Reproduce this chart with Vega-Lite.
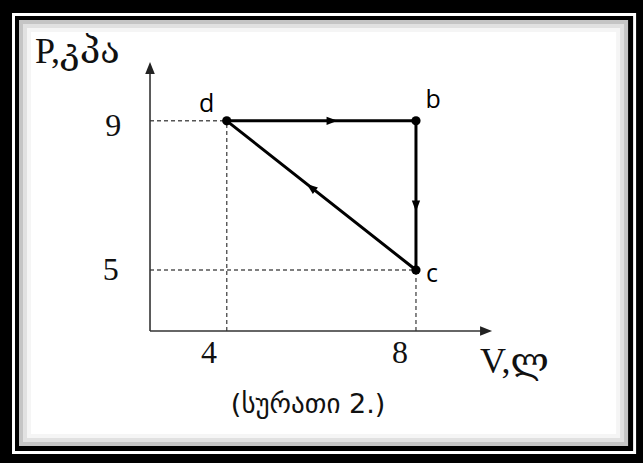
{
  "$schema": "https://vega.github.io/schema/vega-lite/v6.json",
  "width": 643,
  "height": 463,
  "autosize": {"type": "fit", "contains": "padding"},
  "padding": 0,
  "background": "black",
  "config": {"view": {"stroke": null}},
  "encoding": {
    "x": {"field": "V", "type": "quantitative", "scale": {"domain": [-0.793, 12.799], "nice": false, "zero": false}, "axis": null},
    "y": {"field": "P", "type": "quantitative", "scale": {"domain": [-0.174, 12.239], "nice": false, "zero": false}, "axis": null}
  },
  "layer": [
    {
      "data": {"values": [{"V": -0.539, "V2": 12.653, "P": 11.890, "P2": 0.067}]},
      "mark": {"type": "rect", "fill": "white"},
      "encoding": {"x2": {"field": "V2"}, "y2": {"field": "P2"}}
    },
    {
      "data": {"values": [{"V": -0.476, "V2": 12.590, "P": 11.810, "P2": 0.148}]},
      "mark": {"type": "rect", "fill": "black"},
      "encoding": {"x2": {"field": "V2"}, "y2": {"field": "P2"}}
    },
    {
      "data": {"values": [{"V": -0.391, "V2": 12.484, "P": 11.703, "P2": 0.282}]},
      "mark": {"type": "rect", "fill": "white"},
      "encoding": {"x2": {"field": "V2"}, "y2": {"field": "P2"}}
    },
    {
      "data": {"values": [{"V": -0.391, "V2": 12.484, "P": 11.703, "P2": 0.282}]},
      "mark": {"type": "rect", "filled": false, "stroke": "black", "strokeOpacity": 0.16, "strokeWidth": 8},
      "encoding": {"x2": {"field": "V2"}, "y2": {"field": "P2"}}
    },
    {
      "data": {"values": [{"V": -0.306, "V2": 12.399, "P": 11.596, "P2": 0.389}]},
      "mark": {"type": "rect", "filled": false, "stroke": "black", "strokeOpacity": 0.08, "strokeWidth": 8},
      "encoding": {"x2": {"field": "V2"}, "y2": {"field": "P2"}}
    },
    {
      "data": {"values": [{"V": -0.222, "V2": 12.315, "P": 11.489, "P2": 0.496}]},
      "mark": {"type": "rect", "filled": false, "stroke": "black", "strokeOpacity": 0.04, "strokeWidth": 8},
      "encoding": {"x2": {"field": "V2"}, "y2": {"field": "P2"}}
    },
    {
      "data": {"values": [
        {"V": 2.378, "P": 9, "V2": 4, "P2": 9},
        {"V": 2.378, "P": 5, "V2": 8, "P2": 5},
        {"V": 4, "P": 3.365, "V2": 4, "P2": 9},
        {"V": 8, "P": 3.365, "V2": 8, "P2": 5}
      ]},
      "mark": {"type": "rule", "stroke": "#555555", "strokeWidth": 1.4, "strokeDash": [4, 3]},
      "encoding": {"x2": {"field": "V2"}, "y2": {"field": "P2"}}
    },
    {
      "data": {"values": [
        {"V": 2.378, "P": 3.365, "V2": 2.378, "P2": 10.40},
        {"V": 2.378, "P": 3.365, "V2": 9.45, "P2": 3.365}
      ]},
      "mark": {"type": "rule", "stroke": "#333333", "strokeWidth": 1.6},
      "encoding": {"x2": {"field": "V2"}, "y2": {"field": "P2"}}
    },
    {
      "data": {"values": [
        {"V": 4, "P": 9, "V2": 8, "P2": 9},
        {"V": 8, "P": 9, "V2": 8, "P2": 5},
        {"V": 8, "P": 5, "V2": 4, "P2": 9}
      ]},
      "mark": {"type": "rule", "stroke": "black", "strokeWidth": 3, "strokeCap": "round"},
      "encoding": {"x2": {"field": "V2"}, "y2": {"field": "P2"}}
    },
    {
      "data": {"values": [{"V": 2.378, "P": 10.416}]},
      "mark": {"type": "point", "shape": "M-1,-0.8L1,0L-1,0.8Z", "filled": true, "color": "#222222", "opacity": 1, "size": 144, "angle": 270},
      "encoding": {}
    },
    {
      "data": {"values": [{"V": 9.482, "P": 3.365}]},
      "mark": {"type": "point", "shape": "M-1,-0.8L1,0L-1,0.8Z", "filled": true, "color": "#222222", "opacity": 1, "size": 144, "angle": 0},
      "encoding": {}
    },
    {
      "data": {"values": [{"V": 6.226, "P": 9}]},
      "mark": {"type": "point", "shape": "M-1,-0.75L1,0L-1,0.75Z", "filled": true, "color": "black", "opacity": 1, "size": 121, "angle": 0},
      "encoding": {}
    },
    {
      "data": {"values": [{"V": 8, "P": 6.716}]},
      "mark": {"type": "point", "shape": "M-1,-0.75L1,0L-1,0.75Z", "filled": true, "color": "black", "opacity": 1, "size": 121, "angle": 90},
      "encoding": {}
    },
    {
      "data": {"values": [{"V": 5.782, "P": 7.218}]},
      "mark": {"type": "point", "shape": "M-1,-0.75L1,0L-1,0.75Z", "filled": true, "color": "black", "opacity": 1, "size": 121, "angle": 218},
      "encoding": {}
    },
    {
      "data": {"values": [
        {"name": "d", "V": 4, "P": 9},
        {"name": "b", "V": 8, "P": 9},
        {"name": "c", "V": 8, "P": 5}
      ]},
      "mark": {"type": "point", "shape": "circle", "filled": true, "color": "black", "opacity": 1, "size": 85},
      "encoding": {}
    },
    {
      "data": {"values": [
        {"label": "d", "V": 3.573, "P": 9.236},
        {"label": "b", "V": 8.361, "P": 9.344},
        {"label": "c", "V": 8.340, "P": 4.679}
      ]},
      "mark": {"type": "text", "font": "Open Sans", "fontSize": 25, "align": "center", "baseline": "alphabetic", "color": "black"},
      "encoding": {"text": {"field": "label"}}
    },
    {
      "data": {"values": [
        {"label": "9", "V": 1.6, "P": 8.861},
        {"label": "5", "V": 1.55, "P": 5},
        {"label": "4", "V": 3.626, "P": 2.775},
        {"label": "8", "V": 7.664, "P": 2.775}
      ]},
      "mark": {"type": "text", "font": "Liberation Serif", "fontSize": 32, "align": "center", "baseline": "middle", "color": "#111111"},
      "encoding": {"text": {"field": "label"}}
    },
    {
      "data": {"values": [
        {"label": "P,კპა", "V": -0.053, "P": 10.550},
        {"label": "V,ლ", "V": 9.355, "P": 2.239}
      ]},
      "mark": {"type": "text", "font": "Liberation Serif, DejaVu Serif", "fontSize": 36, "align": "left", "baseline": "alphabetic", "color": "#111111"},
      "encoding": {"text": {"field": "label"}}
    },
    {
      "data": {"values": [{"label": "(სურათი 2.)", "V": 5.719, "P": 1.381}]},
      "mark": {"type": "text", "font": "DejaVu Sans", "fontSize": 27, "align": "center", "baseline": "middle", "color": "#111111"},
      "encoding": {"text": {"field": "label"}}
    }
  ]
}
